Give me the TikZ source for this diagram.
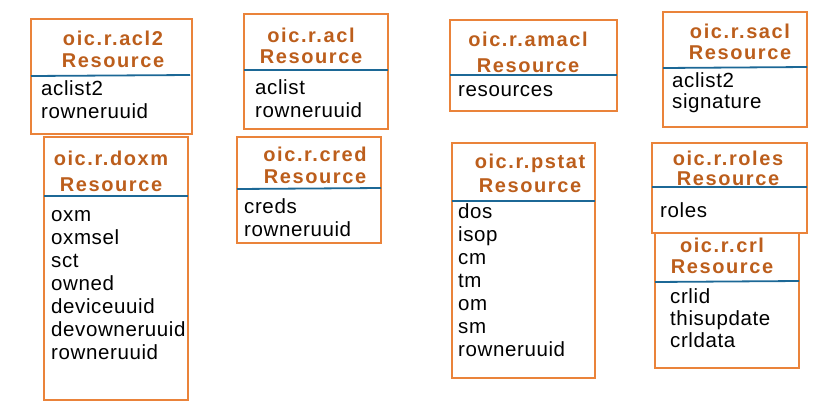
\documentclass[tikz,border=0pt]{standalone}
\usepackage{fontspec}
\setmainfont{Liberation Sans}
\newfontfamily\titlefont[LetterSpace=8]{Liberation Sans}
\newfontfamily\fieldfont[LetterSpace=3]{Liberation Sans}
\definecolor{boxorange}{RGB}{234,131,58}
\definecolor{titlebrown}{RGB}{188,94,28}
\definecolor{sepblue}{RGB}{28,104,150}

\begin{document}
\begin{tikzpicture}[x=1pt, y=-1pt,
    resbox/.style={draw=boxorange, line width=2pt},
    sepline/.style={draw=sepblue, line width=1.8pt},
    restitle/.style={anchor=base, inner sep=0pt, align=center, text=titlebrown,
        font=\titlefont\bfseries\fontsize{20}{22}\selectfont},
    resfield/.style={anchor=base west, inner sep=0pt, align=left,
        font=\fieldfont\fontsize{20.5}{23}\selectfont}]
    \useasboundingbox (0,0) rectangle (836,413);

    % top row (nodes sit on the baseline of their last line)
    \draw[resbox] (31,19) rectangle (192,134);
    \draw[sepline] (31,76) -- (190,75);
    \node(acl2)[restitle] at (113,67) {oic.r.acl2\\Resource};
    \node(acl2f)[resfield] at (41,118) {aclist2\\rowneruuid};

    \draw[resbox] (244,14) rectangle (388,129);
    \draw[sepline] (244,70) -- (388,70);
    \node(acl)[restitle] at (311,63) {oic.r.acl\\[-1pt]Resource};
    \node(aclf)[resfield] at (255,117) {aclist\\rowneruuid};

    \draw[resbox] (450,20) rectangle (617,111);
    \draw[sepline] (450,75) -- (617,75);
    \node(amacl)[restitle] at (528,72) {oic.r.amacl\\[4pt]Resource};
    \node(amaclf)[resfield] at (458,96) {resources};

    \draw[resbox] (663,12) rectangle (807,127);
    \draw[sepline] (663,68) -- (807,67);
    \node(sacl)[restitle] at (740,59) {oic.r.sacl\\[-1pt]Resource};
    \node(saclf)[resfield] at (672,108) {aclist2\\[-2pt]signature};

    % bottom row
    \draw[resbox] (44,137) rectangle (188,400);
    \draw[sepline] (44,196) -- (188,196);
    \node(doxm)[restitle] at (111,191) {oic.r.doxm\\[4pt]Resource};
    \node(doxmf)[resfield] at (51,359) {oxm\\oxmsel\\sct\\owned\\deviceuuid\\devowneruuid\\rowneruuid};

    \draw[resbox] (237,137) rectangle (381,243);
    \draw[sepline] (237,189) -- (381,188);
    \node(cred)[restitle] at (315,183) {oic.r.cred\\Resource};
    \node(credf)[resfield] at (244,236) {creds\\rowneruuid};

    \draw[resbox] (452,143) rectangle (595,378);
    \draw[sepline] (452,201) -- (595,201);
    \node(pstat)[restitle] at (530,192) {oic.r.pstat\\[2pt]Resource};
    \node(pstatf)[resfield] at (458,356) {dos\\isop\\cm\\tm\\om\\sm\\rowneruuid};

    \draw[resbox] (652,143) rectangle (807,233);
    \draw[sepline] (652,187) -- (807,187);
    \node(roles)[restitle] at (728,185) {oic.r.roles\\[-2pt]Resource};
    \node(rolesf)[resfield] at (660,217) {roles};

    \draw[resbox] (655,233) rectangle (799,368);
    \draw[sepline] (655,282) -- (799,281);
    \node(crl)[restitle] at (722,273) {oic.r.crl\\[-1pt]Resource};
    \node(crlf)[resfield] at (670,347) {crlid\\[-1pt]thisupdate\\[-1pt]crldata};
\end{tikzpicture}
\end{document}
